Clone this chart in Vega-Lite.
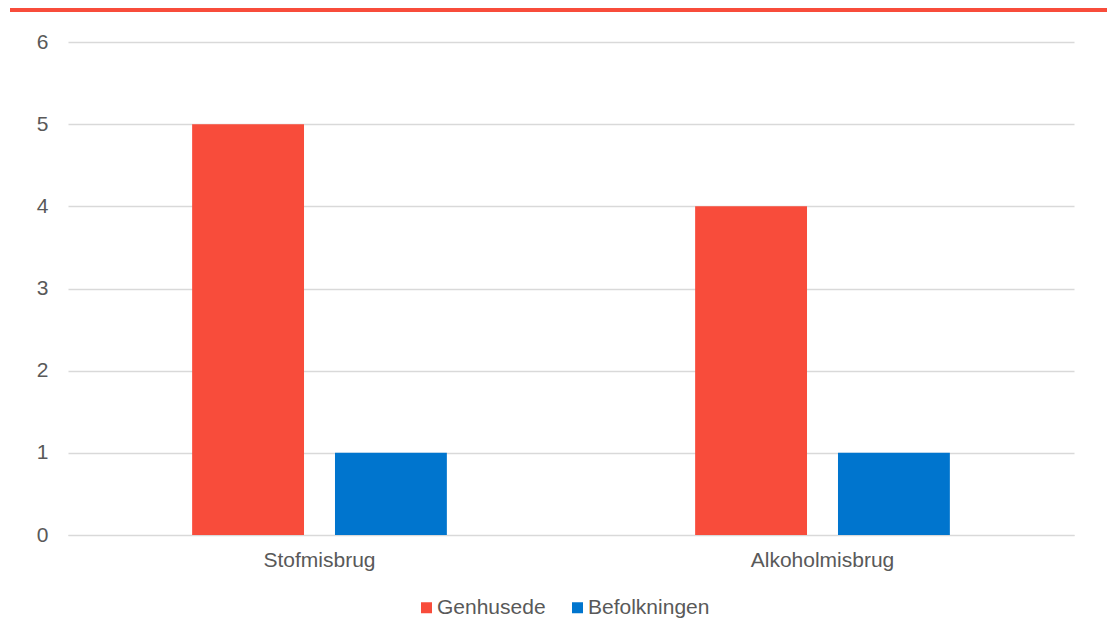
{
  "$schema": "https://vega.github.io/schema/vega-lite/v6.json",
  "padding": {"left": 10, "top": 8, "right": 0, "bottom": 0},
  "background": "white",
  "spacing": 19,
  "config": {
    "view": {"stroke": null},
    "font": "Liberation Sans"
  },
  "resolve": {"legend": {"color": "independent"}},
  "vconcat": [
    {
      "width": 1006,
      "height": 4,
      "data": {"values": [{}]},
      "mark": {"type": "rect", "color": "#F84C3B"},
      "encoding": {
        "x": {"datum": 0, "type": "quantitative", "scale": {"domain": [0, 1], "nice": false, "range": [-58, 1039]}, "axis": null},
        "x2": {"datum": 1},
        "y": {"datum": 0, "type": "quantitative", "scale": {"domain": [0, 1], "nice": false}, "axis": null},
        "y2": {"datum": 1}
      }
    },
    {
      "width": 1006,
      "height": 493,
      "data": {
        "values": [
          {"category": "Stofmisbrug", "series": "Genhusede", "value": 5},
          {"category": "Stofmisbrug", "series": "Befolkningen", "value": 1},
          {"category": "Alkoholmisbrug", "series": "Genhusede", "value": 4},
          {"category": "Alkoholmisbrug", "series": "Befolkningen", "value": 1}
        ]
      },
      "mark": {"type": "bar"},
      "encoding": {
        "x": {
          "field": "category", "type": "nominal",
          "sort": ["Stofmisbrug", "Alkoholmisbrug"],
          "scale": {"paddingInner": 0, "paddingOuter": 0},
          "axis": {"title": null, "labelAngle": 0, "ticks": false, "domain": true, "domainColor": "#d9d9d9", "domainWidth": 1, "labelFontSize": 21, "labelColor": "#595959", "labelPadding": 14}
        },
        "xOffset": {
          "field": "series", "type": "nominal",
          "sort": ["Genhusede", "Befolkningen"],
          "scale": {"paddingInner": 0.2168, "paddingOuter": 0.869}
        },
        "y": {
          "field": "value", "type": "quantitative",
          "scale": {"domain": [0, 6], "nice": false},
          "axis": {"title": null, "values": [0, 1, 2, 3, 4, 5, 6], "domain": false, "ticks": false, "grid": true, "gridColor": "#d9d9d9", "gridWidth": 1.5, "labelFontSize": 21, "labelColor": "#595959", "labelPadding": 20}
        },
        "color": {
          "field": "series", "type": "nominal",
          "sort": ["Genhusede", "Befolkningen"],
          "scale": {"domain": ["Genhusede", "Befolkningen"], "range": ["#F84C3B", "#0075CE"]},
          "legend": {"title": null, "orient": "none", "legendX": 348, "legendY": 555, "direction": "horizontal", "symbolType": "square", "symbolSize": 121, "symbolStrokeWidth": 0, "labelFontSize": 21, "labelColor": "#595959", "columnPadding": 21, "labelOffset": 0, "padding": 0}
        }
      }
    }
  ]
}
